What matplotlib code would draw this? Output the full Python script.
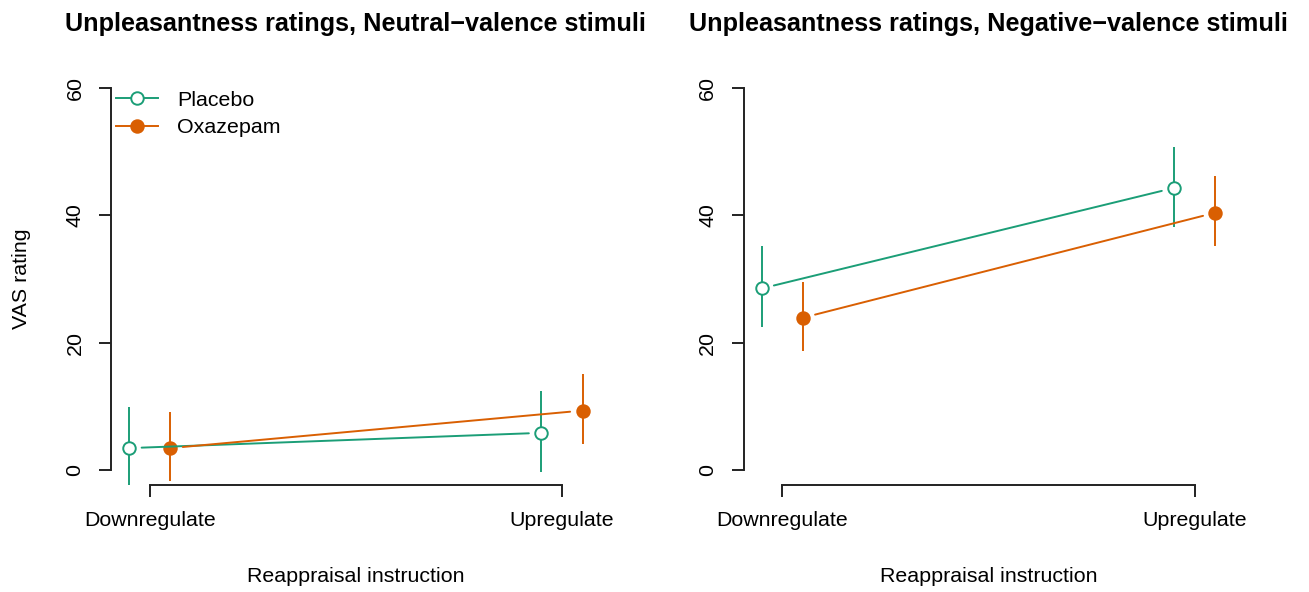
import matplotlib
matplotlib.use("Agg")
import matplotlib.pyplot as plt
from matplotlib.lines import Line2D

plt.rcParams['font.family'] = ['Liberation Sans', 'DejaVu Sans']

categories = ["Downregulate", "Upregulate"]
groups = ["Placebo", "Oxazepam"]
colors = ["#1B9E77", "#D95F02"]
offsets = [-0.05, 0.05]

neutral_placebo = [3.4, 5.8]
neutral_placebo_lo = [-2.5, -0.4]
neutral_placebo_hi = [9.9, 12.3]
neutral_oxazepam = [3.4, 9.3]
neutral_oxazepam_lo = [-1.8, 4.0]
neutral_oxazepam_hi = [9.1, 15.0]

negative_placebo = [28.5, 44.3]
negative_placebo_lo = [22.4, 38.1]
negative_placebo_hi = [35.1, 50.7]
negative_oxazepam = [23.9, 40.4]
negative_oxazepam_lo = [18.6, 35.1]
negative_oxazepam_hi = [29.5, 46.1]

yticks = [0, 20, 40, 60]
titles = ["Unpleasantness ratings, Neutral\u2212valence stimuli",
          "Unpleasantness ratings, Negative\u2212valence stimuli"]

panels = [
    [(neutral_placebo, neutral_placebo_lo, neutral_placebo_hi),
     (neutral_oxazepam, neutral_oxazepam_lo, neutral_oxazepam_hi)],
    [(negative_placebo, negative_placebo_lo, negative_placebo_hi),
     (negative_oxazepam, negative_oxazepam_lo, negative_oxazepam_hi)],
]

W, H = 1309, 592
fig = plt.figure(figsize=(W / 100, H / 100), dpi=100)
fs = 15.4
tfs = 18.2
lw = 1.4
ms = 9

ax_lefts = [111, 743.6]
ax_w = 489.7
ax_bottom_px = 485
ax_top_px = 72.8

for pi, (panel, title) in enumerate(zip(panels, titles)):
    ax = fig.add_axes([ax_lefts[pi] / W, (H - ax_bottom_px) / H,
                       ax_w / W, (ax_bottom_px - ax_top_px) / H])
    ax.set_xlim(0.906, 2.094)
    ax.set_ylim(-2.4, 62.4)
    xs = [1, 2]
    for gi, (vals, lo, hi) in enumerate(panel):
        c = colors[gi]
        x = [xi + offsets[gi] for xi in xs]
        for xi, l, h in zip(x, lo, hi):
            ax.plot([xi, xi], [l, h], color=c, lw=lw, solid_capstyle='butt')
        ax.annotate('', xy=(x[1], vals[1]), xytext=(x[0], vals[0]),
                    xycoords='data', textcoords='data',
                    arrowprops=dict(arrowstyle='-', color=c, lw=lw,
                                    shrinkA=9, shrinkB=9))
        if gi == 0:
            ax.plot(x, vals, linestyle='none', marker='o', ms=ms,
                    mfc='white', mec=c, mew=lw)
        else:
            ax.plot(x, vals, linestyle='none', marker='o', ms=ms,
                    mfc=c, mec=c, mew=lw)

    for s in ['top', 'right']:
        ax.spines[s].set_visible(False)
    ax.spines['left'].set_bounds(0, 60)
    ax.spines['bottom'].set_bounds(1, 2)
    for s in ['left', 'bottom']:
        ax.spines[s].set_linewidth(lw)
        ax.spines[s].set_color('#222222')
    ax.set_xticks(xs)
    ax.set_xticklabels(categories, fontsize=fs)
    ax.set_yticks(yticks)
    ax.set_yticklabels([str(v) for v in yticks], fontsize=fs, rotation=90,
                       va='center')
    ax.tick_params(axis='both', length=8.6, width=lw, color='#222222')
    ax.tick_params(axis='y', pad=10.5)
    ax.tick_params(axis='x', pad=10)
    ax.patch.set_visible(False)

    ax.text(0.5, 1.118, title, transform=ax.transAxes, ha='center',
            va='center', fontsize=tfs, fontweight='bold')
    ax.text(0.5, -0.223, "Reappraisal instruction", transform=ax.transAxes,
            ha='center', va='center', fontsize=fs)
    if pi == 0:
        ax.text(-0.182, 0.5, "VAS rating", transform=ax.transAxes,
                ha='center', va='center', rotation=90, fontsize=fs)
        handles = [
            Line2D([], [], color=colors[0], lw=lw, marker='o', ms=ms,
                   mfc='white', mec=colors[0], mew=lw),
            Line2D([], [], color=colors[1], lw=lw, marker='o', ms=ms,
                   mfc=colors[1], mec=colors[1], mew=lw),
        ]
        ax.legend(handles, groups, loc='upper left',
                  bbox_to_anchor=(0.0102, 0.957), frameon=False,
                  fontsize=fs, borderpad=0, borderaxespad=0,
                  handlelength=1.95, handletextpad=0.9, labelspacing=0.4,
                  numpoints=1)

fig.savefig("out.png", dpi=100)
